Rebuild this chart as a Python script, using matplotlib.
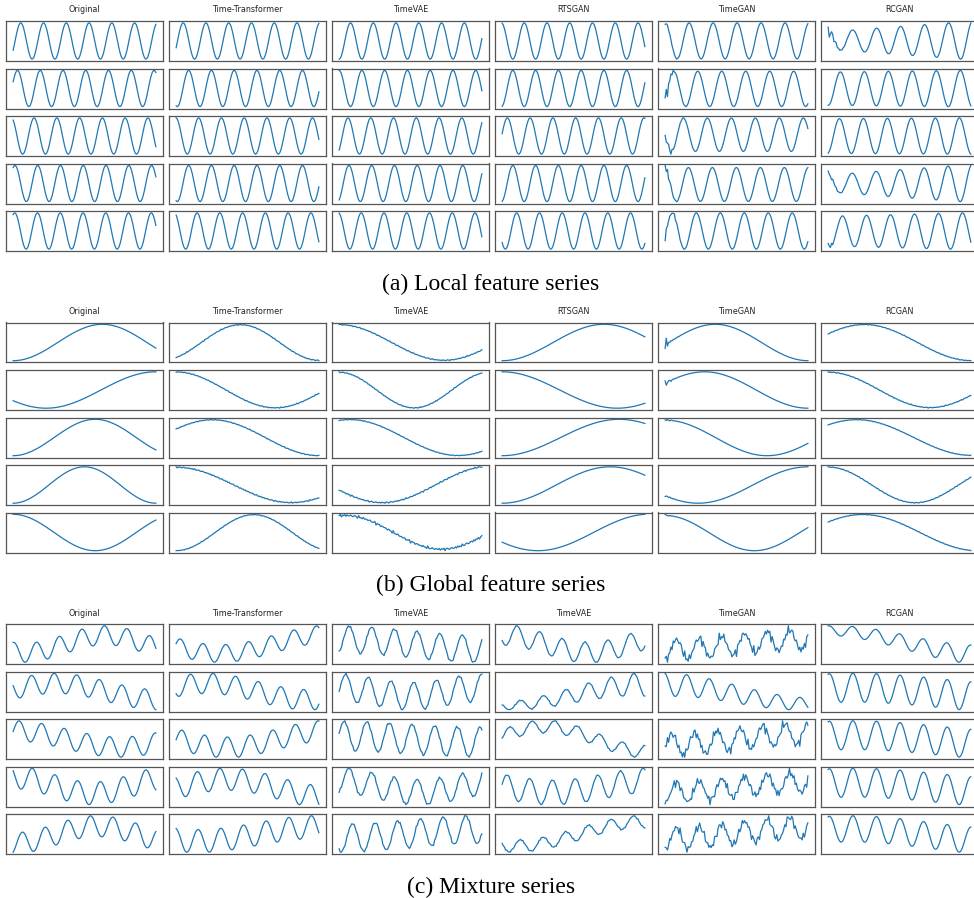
import numpy as np
import matplotlib
matplotlib.use("Agg")
import matplotlib.pyplot as plt

# ---------------- data ----------------
methods_a = ["Original", "Time-Transformer", "TimeVAE", "RTSGAN", "TimeGAN", "RCGAN"]
methods_b = ["Original", "Time-Transformer", "TimeVAE", "RTSGAN", "TimeGAN", "RCGAN"]
methods_c = ["Original", "Time-Transformer", "TimeVAE", "TimeVAE", "TimeGAN", "RCGAN"]
captions = ["(a) Local feature series", "(b) Global feature series", "(c) Mixture series"]

n_steps = 125

# (a) local: position of first peak (cycles after start), cycles per column, start amplitude
local_peak = [[0.335, 0.31, 0.50, 0.97, 0.00, 0.02],
              [0.19, 0.55, 0.00, 0.47, 0.36, 0.51],
              [0.92, 0.99, 0.39, 0.23, 0.76, 0.47],
              [0.08, 0.55, 0.43, 0.47, 0.97, 0.00],
              [0.07, 0.92, 0.97, 0.64, 0.30, 0.60]]
local_cycles = [6.27, 6.27, 6.27, 6.27, 5.95, 5.95]
local_amp0 = [[1, 1, 1, 1, 1, 0.45],
              [1, 1, 1, 1, 1, 0.9],
              [1, 1, 1, 1, 1, 0.95],
              [1, 1, 1, 1, 1, 0.45],
              [1, 1, 1, 1, 1, 0.8]]
local_glitch = [[0, 0, 0, 0, 0.05, 0.15],
                [0, 0, 0, 0, 0.15, 0],
                [0, 0, 0, 0, 0.15, 0],
                [0, 0, 0, 0, 0.10, 0.10],
                [0, 0, 0, 0, 0.15, 0.05]]

# (b) global: start phase (cycles) and number of cycles
glob_theta = [[-0.25, -0.16, 0.25, -0.25, -0.02, 0.08],
              [0.60, 0.25, 0.25, 0.25, 0.06, 0.25],
              [-0.25, 0.08, 0.20, -0.25, 0.25, 0.125],
              [-0.25, 0.25, 0.55, -0.25, 0.60, 0.25],
              [0.25, -0.25, 0.22, 0.59, 0.25, 0.10]]
glob_cycles = [[0.80, 0.91, 0.68, 0.70, 0.77, 0.67],
               [0.65, 0.72, 0.95, 0.62, 0.69, 0.70],
               [0.87, 0.67, 0.66, 0.61, 0.70, 0.625],
               [1.00, 0.62, 0.66, 0.66, 0.65, 0.82],
               [0.87, 0.92, 0.74, 0.64, 0.80, 0.62]]
glob_noise = [[0, 0.012, 0.015, 0, 0, 0.010],
              [0, 0.012, 0.012, 0, 0, 0.012],
              [0, 0.012, 0.010, 0, 0, 0.008],
              [0, 0.015, 0.020, 0, 0, 0.012],
              [0, 0.010, 0.035, 0, 0, 0.008]]
glob_glitch = [[0, 0, 0, 0, 0.15, 0],
               [0, 0, 0, 0, 0.12, 0],
               [0, 0, 0, 0, 0.06, 0],
               [0, 0, 0, 0, 0.05, 0],
               [0, 0, 0, 0, 0.05, 0]]

# (c) mixture: fast wave first peak, fast amplitude start/end, slow wave phase/cycles/amp, noise
mix_peak = [[0.03, 0.19, 0.44, 0.66, 0.50, 0.03],
            [0.81, 0.63, 0.29, 0.81, 0.95, 0.05],
            [0.26, 0.26, 0.22, 0.32, 0.30, 0.05],
            [0.85, 0.93, 0.44, 0.22, 0.50, 0.05],
            [0.41, 0.97, 0.59, 0.80, 0.50, 0.05]]
mix_cycles = [6.3, 6.3, 6.3, 6.3, 6.3, 6.05]
mix_amp0 = [[1, 1, 1, 1, 1, 0.5],
            [1, 1, 1, 0.3, 1.0, 1],
            [1, 1, 1, 0.5, 1, 1],
            [1, 1, 1, 1, 1, 1],
            [1, 1, 1, 0.5, 1, 1]]
mix_amp1 = [[1, 1, 1, 1, 1, 1.0],
            [1, 1, 1, 1.0, 0.5, 1],
            [1, 1, 1, 0.5, 1, 1],
            [1, 1, 1, 1, 1, 1],
            [1, 1, 1, 0.5, 1, 1]]
mix_slow_theta = [[-0.32, -0.45, 0.25, 0.25, -0.25, 0.25],
                  [0.04, 0.10, 0.25, -0.25, 0.25, 0.18],
                  [0.25, -0.50, 0.25, 0.04, -0.25, 0.18],
                  [0.25, 0.00, 0.30, -0.50, -0.25, 0.18],
                  [-0.25, -0.34, -0.25, -0.30, -0.25, 0.18]]
mix_slow_cycles = [[0.88, 0.65, 0.50, 0.83, 0.50, 0.45],
                   [0.70, 0.70, 1.00, 0.50, 0.50, 0.40],
                   [0.67, 0.70, 0.50, 0.70, 0.50, 0.40],
                   [0.90, 0.70, 0.80, 0.70, 0.50, 0.40],
                   [0.85, 0.60, 0.50, 0.55, 0.50, 0.45]]
mix_slow_amp = [[0.9, 1.1, 0.35, 0.85, 0.5, 1.3],
                [0.8, 0.8, 0.30, 0.90, 0.8, 0.40],
                [0.8, 0.8, 0.20, 1.00, 0.5, 0.40],
                [0.7, 0.8, 0.50, 0.50, 0.5, 0.40],
                [0.8, 0.6, 0.30, 1.00, 0.5, 0.50]]
mix_noise = [[0, 0, 0.04, 0.02, 0.19, 0],
             [0, 0, 0.03, 0.02, 0.00, 0],
             [0, 0, 0.04, 0.02, 0.19, 0],
             [0, 0, 0.04, 0.02, 0.19, 0],
             [0, 0, 0.04, 0.03, 0.19, 0]]

# ---------------- helpers ----------------
t = np.linspace(0, 1, n_steps)


def jitter(r, c, k):
    ph = 1.7 * r + 2.9 * c + 0.6 * k
    return (np.sin(2 * np.pi * 37.17 * t + ph)
            + 0.8 * np.sin(2 * np.pi * 53.41 * t + 2.3 * ph + 1.0)
            + 0.6 * np.sin(2 * np.pi * 61.9 * t + 0.7 * ph + 2.0)
            + 0.7 * np.sin(2 * np.pi * 29.3 * t + 1.9 * ph + 0.4)) / 2.0


def local_series(r, c):
    amp = local_amp0[r][c] + (1 - local_amp0[r][c]) * t
    y = amp * np.sin(2 * np.pi * (0.25 - local_peak[r][c] + local_cycles[c] * t))
    y = y + local_glitch[r][c] * jitter(r, c, 0) * np.exp(-t / 0.04) * 3
    return y


def global_series(r, c):
    y = np.sin(2 * np.pi * (glob_theta[r][c] + glob_cycles[r][c] * t))
    y = y + glob_noise[r][c] * jitter(r, c, 1) * 2
    y = y + glob_glitch[r][c] * jitter(r, c, 2) * np.exp(-t / 0.03) * 2
    return y


def mix_series(r, c):
    amp = mix_amp0[r][c] + (mix_amp1[r][c] - mix_amp0[r][c]) * t
    y = amp * np.sin(2 * np.pi * (0.25 - mix_peak[r][c] + mix_cycles[c] * t))
    y = y + mix_slow_amp[r][c] * np.sin(2 * np.pi * (mix_slow_theta[r][c] + mix_slow_cycles[r][c] * t))
    y = y + mix_noise[r][c] * jitter(r, c, 3) * 2
    return y


panels = [(methods_a, local_series), (methods_b, global_series), (methods_c, mix_series)]

# ---------------- figure ----------------
W, H = 974, 898
fig = plt.figure(figsize=(W / 100, H / 100), dpi=100)

col_left0, col_step, ax_w = 6, 163, 157
row_top0, row_step, ax_h = 21, 47.5, 40
panel_step = 301.5

for k, (names, func) in enumerate(panels):
    for c in range(6):
        left = col_left0 + col_step * c
        fig.text((left + ax_w / 2) / W, 1 - (10 + panel_step * k) / H, names[c],
                 ha="center", va="center", fontsize=5.8, color="#222222")
        for r in range(5):
            top = row_top0 + panel_step * k + row_step * r
            ax = fig.add_axes([left / W, 1 - (top + ax_h) / H, ax_w / W, ax_h / H])
            ax.plot(np.arange(n_steps), func(r, c), color="#1f77b4", lw=0.9)
            ax.set_xticks([])
            ax.set_yticks([])
            for s in ax.spines.values():
                s.set_color("#555555")
                s.set_linewidth(0.9)
    fig.text(491 / W, 1 - (284 + panel_step * k) / H, captions[k],
             ha="center", va="center", fontsize=17, family="Liberation Serif")

fig.savefig("out.png", dpi=100, facecolor="white")
